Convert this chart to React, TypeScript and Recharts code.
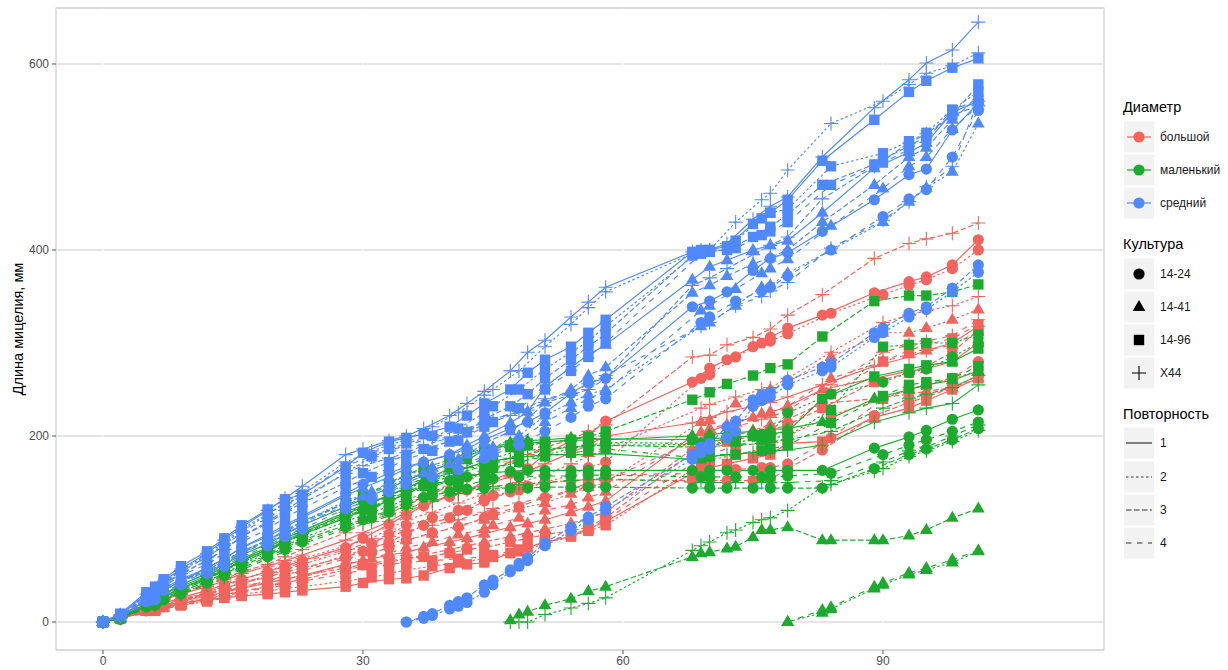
import React from "react";
import { LineChart, Line, XAxis, YAxis, CartesianGrid, ReferenceArea } from "recharts";

const RED = "#F2645D";
const GREEN = "#1DAB2F";
const BLUE = "#5089FF";

const diameterLabels = ["большой", "маленький", "средний"];
const cultureLabels = ["14-24", "14-41", "14-96", "X44"];
const repLabels = ["1", "2", "3", "4"];
const xTicks = [0, 30, 60, 90];
const yTicks = [0, 200, 400, 600];

// measurement days (schedules)
const dA = [0, 2, 5, 7, 9, 12, 14, 16, 19, 21, 23, 28, 30, 33, 35, 37, 40, 42, 44, 47, 49, 51, 54, 56, 58, 68, 70, 72, 75, 77, 79, 83, 89, 93, 95, 98, 101];
const dB = [0, 2, 6, 9, 12, 14, 16, 19, 21, 23, 28, 31, 33, 35, 38, 41, 44, 45, 48, 51, 54, 56, 58, 69, 70, 73, 76, 77, 79, 84, 90, 93, 95, 98, 101];
const d35 = [35, 37, 38, 40, 41, 42, 44, 45, 47, 48, 49, 51, 54, 56, 58, 68, 69, 70, 72, 73, 75, 76, 77, 79, 83, 84, 89, 90, 93, 95, 98, 101];
const d47 = [47, 48, 49, 51, 54, 56, 58, 68, 69, 70, 72, 73, 75, 76, 77, 79, 83, 84, 89, 90, 93, 95, 98, 101];
const d79 = [79, 83, 84, 89, 90, 93, 95, 98, 101];

// большой (red)
const redC1 = [0, 4, 14, 20, 26, 34, 40, 46, 54, 60, 66, 80, 90, 105, 115, 125, 135, 142, 150, 160, 165, 180, 195, 201, 216, 258, 273, 282, 296, 306, 316, 330, 354, 366, 371, 384, 411];
const redC2 = [0, 4, 14, 22, 30, 36, 42, 50, 56, 62, 76, 84, 94, 104, 112, 120, 132, 136, 142, 150, 158, 166, 172, 262, 266, 285, 300, 302, 310, 332, 352, 362, 368, 380, 400];
const redC3 = [0, 3, 12, 18, 24, 30, 36, 42, 48, 54, 58, 70, 76, 86, 95, 104, 112, 120, 130, 140, 146, 150, 152, 153, 153, 152, 152, 152, 152, 153, 165, 185, 222, 236, 242, 252, 265];
const redC4 = [0, 4, 13, 20, 26, 32, 38, 44, 50, 55, 68, 74, 80, 88, 96, 102, 112, 116, 124, 134, 142, 150, 158, 160, 162, 164, 166, 166, 170, 198, 240, 250, 255, 262, 280];
const redT1 = [0, 4, 12, 17, 22, 28, 32, 36, 42, 46, 50, 62, 66, 72, 75, 80, 86, 90, 95, 102, 106, 110, 118, 124, 130, 200, 205, 212, 220, 225, 232, 250, 262, 270, 272, 280, 300];
const redT2 = [0, 4, 14, 20, 26, 32, 38, 44, 50, 56, 72, 80, 85, 88, 95, 104, 110, 114, 122, 128, 138, 145, 150, 215, 217, 235, 245, 250, 258, 285, 311, 311, 316, 325, 336];
const redT3 = [0, 4, 11, 15, 20, 25, 29, 33, 38, 42, 46, 56, 60, 64, 68, 72, 78, 82, 86, 92, 96, 100, 106, 112, 118, 186, 192, 198, 206, 212, 218, 235, 240, 245, 248, 252, 262];
const redT4 = [0, 4, 12, 18, 23, 28, 32, 38, 44, 48, 62, 68, 74, 80, 86, 94, 100, 104, 112, 120, 126, 134, 140, 204, 208, 215, 224, 226, 232, 262, 280, 288, 292, 298, 312];
const redS1 = [0, 4, 12, 16, 20, 24, 26, 28, 30, 32, 34, 38, 42, 46, 47, 50, 58, 62, 64, 74, 80, 86, 92, 100, 108, 160, 166, 170, 176, 180, 192, 194, 220, 230, 238, 250, 262];
const redS2 = [0, 4, 13, 18, 22, 26, 30, 33, 36, 38, 44, 48, 52, 56, 60, 64, 68, 70, 76, 84, 92, 98, 104, 170, 174, 180, 186, 188, 200, 222, 240, 250, 255, 262, 270];
const redS3 = [0, 4, 14, 20, 25, 30, 34, 38, 42, 46, 50, 58, 62, 66, 68, 70, 74, 78, 80, 86, 90, 94, 98, 102, 112, 182, 188, 194, 200, 206, 212, 230, 258, 268, 275, 290, 314];
const redS4 = [0, 4, 12, 18, 24, 29, 33, 36, 40, 44, 52, 58, 62, 64, 66, 68, 70, 72, 78, 86, 94, 100, 110, 176, 180, 190, 196, 198, 210, 245, 280, 292, 298, 305, 320];
const redP1 = [0, 5, 16, 24, 30, 38, 44, 52, 60, 66, 72, 88, 96, 108, 118, 126, 136, 142, 148, 156, 162, 170, 182, 190, 200, 214, 220, 226, 232, 236, 242, 255, 275, 285, 292, 300, 318];
const redP2 = [0, 5, 15, 24, 32, 38, 46, 54, 62, 68, 82, 90, 100, 110, 118, 128, 138, 142, 150, 158, 170, 178, 186, 230, 234, 242, 250, 252, 262, 290, 322, 330, 335, 340, 350];
const redP3 = [0, 5, 17, 25, 32, 40, 46, 54, 62, 70, 78, 96, 106, 116, 126, 134, 146, 154, 162, 172, 180, 188, 196, 205, 212, 285, 287, 298, 306, 315, 330, 352, 391, 407, 412, 418, 429];
const redP4 = [0, 4, 15, 23, 30, 36, 42, 50, 58, 64, 78, 86, 92, 98, 104, 110, 118, 122, 128, 134, 140, 146, 152, 198, 202, 210, 218, 220, 228, 255, 290, 298, 302, 308, 325];

// маленький (green)
const greenC1 = [0, 4, 18, 28, 36, 48, 56, 66, 78, 86, 94, 112, 120, 130, 138, 146, 152, 156, 160, 162, 163, 163, 163, 163, 163, 163, 163, 163, 163, 163, 163, 163, 187, 199, 206, 218, 228];
const greenC2 = [0, 4, 19, 32, 44, 52, 62, 74, 82, 90, 108, 118, 124, 132, 140, 150, 160, 165, 172, 180, 186, 190, 193, 192, 194, 198, 202, 203, 225, 245, 258, 268, 272, 285, 300];
const greenC3 = [0, 3, 16, 24, 32, 44, 52, 60, 72, 80, 88, 104, 110, 120, 128, 134, 140, 143, 144, 144, 144, 145, 145, 145, 145, 144, 144, 144, 144, 144, 144, 144, 165, 180, 186, 196, 208];
const greenC4 = [0, 4, 18, 30, 42, 50, 58, 70, 78, 86, 102, 112, 118, 126, 136, 145, 152, 154, 156, 157, 157, 158, 158, 156, 156, 156, 156, 156, 157, 160, 180, 190, 196, 205, 215];
const greenT1 = [0, 4, 17, 27, 36, 47, 56, 66, 78, 88, 96, 116, 124, 136, 144, 152, 165, 174, 185, 193, 195, 196, 198, 198, 196, 200, 202, 203, 205, 207, 208, 215, 240, 250, 255, 260, 270];
const greenT2 = [0, 10, 14, 36, 40, 51, 56, 64, 76];
const greenT3 = [2, 8, 11, 18, 25, 33, 38, 70, 74, 75, 79, 81, 91, 99, 99, 102, 88, 88, 88, 88, 93, 99, 112, 122];
const greenT4 = [0, 13, 16, 38, 42, 53, 58, 67, 77];
const greenS1 = [0, 5, 20, 30, 40, 52, 62, 72, 84, 94, 104, 124, 132, 144, 152, 160, 170, 178, 186, 190, 192, 194, 195, 196, 197, 196, 197, 198, 200, 202, 205, 240, 264, 272, 276, 280, 294];
const greenS2 = [0, 5, 22, 36, 48, 58, 68, 80, 90, 98, 118, 128, 136, 144, 152, 162, 172, 176, 184, 186, 188, 189, 190, 191, 192, 194, 196, 198, 200, 228, 296, 298, 300, 300, 309];
const greenS3 = [0, 6, 22, 34, 44, 54, 64, 74, 88, 98, 108, 128, 136, 148, 158, 166, 174, 182, 186, 188, 190, 193, 196, 199, 205, 239, 247, 256, 265, 273, 277, 307, 345, 351, 351, 355, 363];
const greenS4 = [0, 5, 20, 34, 46, 56, 64, 76, 86, 94, 112, 122, 130, 138, 146, 154, 162, 166, 172, 178, 182, 184, 186, 176, 178, 180, 184, 186, 190, 214, 243, 255, 258, 262, 275];
const greenP1 = [0, 5, 19, 30, 38, 50, 59, 68, 80, 90, 98, 118, 126, 136, 144, 152, 160, 166, 172, 176, 178, 180, 180, 180, 181, 175, 178, 180, 182, 184, 185, 190, 215, 225, 230, 235, 255];
const greenP2 = [0, 0, 0, 8, 15, 20, 26, 77, 82, 86, 96, 99, 107, 110, 112, 120, 145, 148, 162, 165, 178, 184, 194, 206];
const greenP3 = [0, 5, 21, 34, 46, 55, 64, 76, 86, 95, 114, 124, 132, 140, 150, 160, 168, 172, 178, 185, 188, 190, 190, 188, 189, 190, 192, 194, 196, 205, 230, 240, 245, 252, 265];
const greenP4 = [0, 4, 18, 30, 40, 48, 56, 68, 76, 84, 100, 108, 114, 122, 130, 138, 144, 146, 148, 150, 152, 153, 154, 150, 150, 150, 150, 150, 150, 152, 172, 184, 188, 200, 212];

// средний (blue)
const blueC1 = [0, 7, 22, 34, 44, 58, 68, 80, 94, 104, 114, 138, 148, 160, 167, 172, 180, 186, 196, 208, 215, 225, 246, 257, 262, 339, 345, 355, 378, 391, 397, 420, 454, 481, 487, 529, 558];
const blueC2 = [0, 4, 7, 14, 17, 21, 32, 40, 54, 60, 66, 82, 98, 110, 120, 175, 182, 186, 198, 205, 232, 238, 242, 255, 270, 274, 306, 311, 328, 336, 355, 376];
const blueC3 = [0, 6, 9, 18, 22, 26, 40, 45, 56, 63, 69, 85, 102, 113, 124, 180, 188, 192, 210, 216, 239, 244, 247, 260, 274, 278, 311, 316, 332, 339, 359, 384];
const blueC4 = [0, 6, 24, 40, 52, 60, 70, 82, 92, 100, 122, 132, 140, 148, 156, 164, 176, 180, 190, 205, 220, 232, 240, 322, 328, 345, 356, 360, 372, 400, 436, 455, 465, 500, 550];
const blueT1 = [0, 6, 24, 36, 46, 58, 68, 80, 92, 102, 112, 136, 144, 156, 165, 172, 180, 190, 200, 214, 226, 253, 274, 287, 298, 368, 382, 389, 400, 405, 410, 440, 488, 505, 515, 548, 560];
const blueT2 = [0, 6, 28, 44, 56, 66, 76, 88, 98, 108, 130, 140, 150, 158, 166, 175, 185, 188, 200, 222, 236, 245, 250, 318, 322, 340, 360, 362, 375, 400, 430, 452, 467, 484, 536];
const blueT3 = [0, 6, 22, 34, 44, 56, 65, 76, 88, 97, 106, 128, 135, 146, 154, 160, 170, 180, 192, 205, 218, 236, 250, 265, 274, 354, 362, 372, 385, 392, 400, 430, 470, 500, 510, 540, 565];
const blueT4 = [0, 6, 26, 42, 54, 63, 74, 86, 95, 104, 126, 136, 142, 150, 160, 168, 178, 182, 195, 215, 230, 240, 248, 335, 340, 358, 375, 380, 390, 426, 466, 490, 500, 530, 555];
const blueS1 = [0, 9, 32, 46, 60, 76, 90, 104, 121, 132, 137, 167, 182, 194, 198, 202, 210, 222, 235, 250, 268, 282, 296, 311, 325, 398, 400, 404, 428, 440, 454, 496, 540, 570, 582, 596, 606];
const blueS2 = [0, 8, 38, 56, 72, 86, 100, 116, 128, 134, 160, 178, 186, 192, 200, 208, 225, 232, 250, 272, 290, 302, 318, 400, 400, 410, 434, 440, 444, 490, 504, 517, 526, 551, 570];
const blueS3 = [0, 7, 28, 42, 52, 66, 78, 92, 106, 118, 128, 150, 160, 172, 180, 186, 194, 204, 218, 232, 245, 262, 282, 296, 310, 394, 398, 400, 414, 425, 438, 470, 492, 512, 522, 545, 578];
const blueS4 = [0, 7, 32, 50, 62, 74, 86, 100, 112, 122, 145, 156, 166, 175, 184, 195, 210, 215, 230, 250, 270, 285, 300, 396, 398, 402, 416, 420, 430, 470, 494, 508, 520, 550, 562];
const blueP1 = [0, 8, 30, 44, 57, 74, 88, 102, 120, 133, 146, 180, 186, 195, 200, 208, 222, 235, 248, 270, 290, 303, 328, 344, 360, 398, 400, 407, 433, 447, 457, 500, 553, 583, 601, 615, 645];
const blueP2 = [0, 7, 36, 55, 70, 84, 98, 115, 128, 140, 172, 184, 190, 196, 210, 225, 244, 250, 270, 296, 320, 338, 355, 400, 400, 430, 454, 461, 486, 536, 560, 578, 590, 598, 612];
const blueP3 = [0, 6, 26, 40, 52, 66, 78, 92, 108, 120, 132, 160, 168, 176, 182, 190, 198, 205, 212, 222, 228, 236, 244, 250, 262, 362, 370, 380, 395, 405, 414, 455, 490, 515, 525, 545, 555];
const blueP4 = [0, 7, 34, 54, 70, 82, 96, 112, 124, 138, 168, 178, 184, 190, 198, 206, 214, 218, 226, 240, 246, 256, 265, 318, 322, 340, 350, 356, 365, 402, 432, 452, 468, 490, 560];

type Shape = "c" | "t" | "s" | "p";
type Def = { id: string; color: string; shape: Shape; rep: number; days: number[]; vals: number[] };

const defs: Def[] = [
  { id: "rc1", color: RED, shape: "c", rep: 1, days: dA, vals: redC1 },
  { id: "rc2", color: RED, shape: "c", rep: 2, days: dB, vals: redC2 },
  { id: "rc3", color: RED, shape: "c", rep: 3, days: dA, vals: redC3 },
  { id: "rc4", color: RED, shape: "c", rep: 4, days: dB, vals: redC4 },
  { id: "rt1", color: RED, shape: "t", rep: 1, days: dA, vals: redT1 },
  { id: "rt2", color: RED, shape: "t", rep: 2, days: dB, vals: redT2 },
  { id: "rt3", color: RED, shape: "t", rep: 3, days: dA, vals: redT3 },
  { id: "rt4", color: RED, shape: "t", rep: 4, days: dB, vals: redT4 },
  { id: "rs1", color: RED, shape: "s", rep: 1, days: dA, vals: redS1 },
  { id: "rs2", color: RED, shape: "s", rep: 2, days: dB, vals: redS2 },
  { id: "rs3", color: RED, shape: "s", rep: 3, days: dA, vals: redS3 },
  { id: "rs4", color: RED, shape: "s", rep: 4, days: dB, vals: redS4 },
  { id: "rp1", color: RED, shape: "p", rep: 1, days: dA, vals: redP1 },
  { id: "rp2", color: RED, shape: "p", rep: 2, days: dB, vals: redP2 },
  { id: "rp3", color: RED, shape: "p", rep: 3, days: dA, vals: redP3 },
  { id: "rp4", color: RED, shape: "p", rep: 4, days: dB, vals: redP4 },
  { id: "gc1", color: GREEN, shape: "c", rep: 1, days: dA, vals: greenC1 },
  { id: "gc2", color: GREEN, shape: "c", rep: 2, days: dB, vals: greenC2 },
  { id: "gc3", color: GREEN, shape: "c", rep: 3, days: dA, vals: greenC3 },
  { id: "gc4", color: GREEN, shape: "c", rep: 4, days: dB, vals: greenC4 },
  { id: "gt1", color: GREEN, shape: "t", rep: 1, days: dA, vals: greenT1 },
  { id: "gt2", color: GREEN, shape: "t", rep: 2, days: d79, vals: greenT2 },
  { id: "gt3", color: GREEN, shape: "t", rep: 3, days: d47, vals: greenT3 },
  { id: "gt4", color: GREEN, shape: "t", rep: 4, days: d79, vals: greenT4 },
  { id: "gs1", color: GREEN, shape: "s", rep: 1, days: dA, vals: greenS1 },
  { id: "gs2", color: GREEN, shape: "s", rep: 2, days: dB, vals: greenS2 },
  { id: "gs3", color: GREEN, shape: "s", rep: 3, days: dA, vals: greenS3 },
  { id: "gs4", color: GREEN, shape: "s", rep: 4, days: dB, vals: greenS4 },
  { id: "gp1", color: GREEN, shape: "p", rep: 1, days: dA, vals: greenP1 },
  { id: "gp2", color: GREEN, shape: "p", rep: 2, days: d47, vals: greenP2 },
  { id: "gp3", color: GREEN, shape: "p", rep: 3, days: dB, vals: greenP3 },
  { id: "gp4", color: GREEN, shape: "p", rep: 4, days: dB, vals: greenP4 },
  { id: "bc1", color: BLUE, shape: "c", rep: 1, days: dA, vals: blueC1 },
  { id: "bc2", color: BLUE, shape: "c", rep: 2, days: d35, vals: blueC2 },
  { id: "bc3", color: BLUE, shape: "c", rep: 3, days: d35, vals: blueC3 },
  { id: "bc4", color: BLUE, shape: "c", rep: 4, days: dB, vals: blueC4 },
  { id: "bt1", color: BLUE, shape: "t", rep: 1, days: dA, vals: blueT1 },
  { id: "bt2", color: BLUE, shape: "t", rep: 2, days: dB, vals: blueT2 },
  { id: "bt3", color: BLUE, shape: "t", rep: 3, days: dA, vals: blueT3 },
  { id: "bt4", color: BLUE, shape: "t", rep: 4, days: dB, vals: blueT4 },
  { id: "bs1", color: BLUE, shape: "s", rep: 1, days: dA, vals: blueS1 },
  { id: "bs2", color: BLUE, shape: "s", rep: 2, days: dB, vals: blueS2 },
  { id: "bs3", color: BLUE, shape: "s", rep: 3, days: dA, vals: blueS3 },
  { id: "bs4", color: BLUE, shape: "s", rep: 4, days: dB, vals: blueS4 },
  { id: "bp1", color: BLUE, shape: "p", rep: 1, days: dA, vals: blueP1 },
  { id: "bp2", color: BLUE, shape: "p", rep: 2, days: dB, vals: blueP2 },
  { id: "bp3", color: BLUE, shape: "p", rep: 3, days: dA, vals: blueP3 },
  { id: "bp4", color: BLUE, shape: "p", rep: 4, days: dB, vals: blueP4 },
];

const DASH: Record<number, string | undefined> = { 1: undefined, 2: "2.5 2.5", 3: "5.5 2.5", 4: "5.5 5.5" };

const series = defs.map((d) => ({
  ...d,
  data: d.days.slice(0, d.vals.length).map((x, i) => ({ x, y: d.vals[i] })),
}));

function Marker({ shape, color, cx, cy }: { shape: Shape; color: string; cx: number; cy: number }) {
  if (cx == null || cy == null || isNaN(cx) || isNaN(cy)) return null;
  if (shape === "c") return <circle cx={cx} cy={cy} r={5.6} fill={color} />;
  if (shape === "s") return <rect x={cx - 5.2} y={cy - 5.2} width={10.4} height={10.4} fill={color} />;
  if (shape === "t")
    return <polygon points={`${cx},${cy - 7} ${cx - 6.4},${cy + 4} ${cx + 6.4},${cy + 4}`} fill={color} />;
  return (
    <path d={`M${cx - 7},${cy}H${cx + 7}M${cx},${cy - 7}V${cy + 7}`} stroke={color} strokeWidth={1.1} fill="none" />
  );
}

const FONT = "'Liberation Sans', Arial, sans-serif";

function LegendOverlay() {
  const keyX = 1124;
  const labelX = 1160;
  const diamColors = [RED, GREEN, BLUE];
  const diamY = [137, 170, 203];
  const cultY = [274, 307, 340, 373];
  const repY = [443, 477, 510, 543];
  const shapes: Shape[] = ["c", "t", "s", "p"];
  const box = (cy: number, k: string) => (
    <rect key={k} x={keyX} y={cy - 15.5} width={30} height={31} fill="#f2f2f2" />
  );
  return (
    <svg width={1228} height={670} style={{ position: "absolute", left: 0, top: 0, pointerEvents: "none" }}>
      <text x={18} y={329} transform="rotate(-90 18 329)" textAnchor="middle" dominantBaseline="central" fontSize={14.5} fontFamily={FONT} fill="#000">
        Длина мицелия, мм
      </text>
      <text x={1123} y={107} dominantBaseline="central" fontSize={14.5} fontFamily={FONT} fill="#000">Диаметр</text>
      {diameterLabels.map((lab, i) => (
        <g key={"d" + i}>
          {box(diamY[i], "db" + i)}
          <line x1={keyX + 3} x2={keyX + 27} y1={diamY[i]} y2={diamY[i]} stroke={diamColors[i]} strokeWidth={1.2} />
          <circle cx={keyX + 15} cy={diamY[i]} r={5.6} fill={diamColors[i]} />
          <text x={labelX} y={diamY[i]} dominantBaseline="central" fontSize={12} fontFamily={FONT} fill="#1a1a1a">{lab}</text>
        </g>
      ))}
      <text x={1123} y={244} dominantBaseline="central" fontSize={14.5} fontFamily={FONT} fill="#000">Культура</text>
      {cultureLabels.map((lab, i) => (
        <g key={"c" + i}>
          {box(cultY[i], "cb" + i)}
          <Marker shape={shapes[i]} color="#000" cx={keyX + 15} cy={cultY[i]} />
          <text x={labelX} y={cultY[i]} dominantBaseline="central" fontSize={12} fontFamily={FONT} fill="#1a1a1a">{lab}</text>
        </g>
      ))}
      <text x={1123} y={414} dominantBaseline="central" fontSize={14.5} fontFamily={FONT} fill="#000">Повторность</text>
      {repLabels.map((lab, i) => (
        <g key={"r" + i}>
          {box(repY[i], "rb" + i)}
          <line x1={keyX + 2} x2={keyX + 28} y1={repY[i]} y2={repY[i]} stroke="#333" strokeWidth={1.2} strokeDasharray={DASH[i + 1]} />
          <text x={labelX} y={repY[i]} dominantBaseline="central" fontSize={12} fontFamily={FONT} fill="#1a1a1a">{lab}</text>
        </g>
      ))}
    </svg>
  );
}

export default function App() {
  const X_DOMAIN: [number, number] = [-5.42, 115.5];
  const Y_DOMAIN: [number, number] = [-30.1, 660.2];
  return (
    <div style={{ position: "absolute", left: 0, top: 0, width: 1228, height: 670, background: "#fff", fontFamily: FONT }}>
      <LineChart width={1228} height={670} margin={{ top: 8, right: 124, bottom: 0, left: 0 }}>
        <CartesianGrid horizontal={true} vertical={false} stroke="#dcdcdc" strokeWidth={1.3} />
        <CartesianGrid horizontal={false} vertical={true} stroke="#ffffff" strokeWidth={1} />
        <XAxis
          type="number"
          dataKey="x"
          domain={X_DOMAIN}
          ticks={xTicks}
          allowDataOverflow
          height={20}
          axisLine={false}
          tickSize={4}
          tickMargin={2}
          tickLine={{ stroke: "#555" }}
          tick={{ fontSize: 12, fill: "#4d4d4d", fontFamily: FONT }}
        />
        <YAxis
          type="number"
          dataKey="y"
          domain={Y_DOMAIN}
          ticks={yTicks}
          allowDataOverflow
          width={56}
          axisLine={false}
          tickSize={4}
          tickMargin={3}
          tickLine={{ stroke: "#555" }}
          tick={{ fontSize: 12, fill: "#4d4d4d", fontFamily: FONT }}
        />
        <ReferenceArea x1={X_DOMAIN[0]} x2={X_DOMAIN[1]} y1={Y_DOMAIN[0]} y2={Y_DOMAIN[1]} fill="none" stroke="#cfcfcf" strokeWidth={1.2} ifOverflow="visible" />
        {series.map((s) => (
          <Line
            key={"l-" + s.id}
            data={s.data}
            dataKey="y"
            type="linear"
            stroke={s.color}
            strokeWidth={1.15}
            strokeDasharray={DASH[s.rep]}
            dot={false}
            activeDot={false}
            isAnimationActive={false}
          />
        ))}
        {series.map((s) => (
          <Line
            key={"p-" + s.id}
            data={s.data}
            dataKey="y"
            type="linear"
            stroke="none"
            dot={(p: any) => <Marker key={`${s.id}-${p.index}`} shape={s.shape} color={s.color} cx={p.cx} cy={p.cy} />}
            activeDot={false}
            isAnimationActive={false}
          />
        ))}
      </LineChart>
      <LegendOverlay />
    </div>
  );
}
